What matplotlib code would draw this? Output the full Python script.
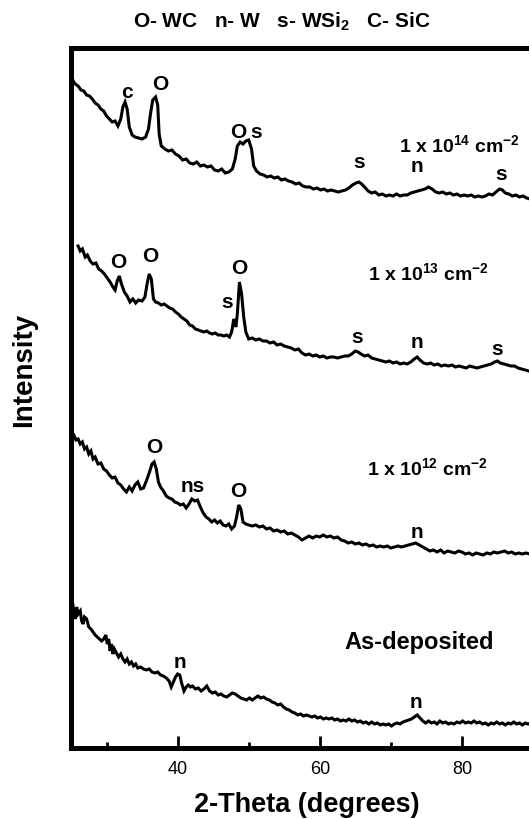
import matplotlib
matplotlib.use("Agg")
from matplotlib import pyplot as plt
from matplotlib.ticker import FixedLocator

plt.rcParams['font.family'] = ['Liberation Sans', 'DejaVu Sans']
plt.rcParams['mathtext.fontset'] = 'custom'
plt.rcParams['mathtext.rm'] = 'Liberation Sans:bold'
plt.rcParams['mathtext.bf'] = 'Liberation Sans:bold'
plt.rcParams['mathtext.it'] = 'Liberation Sans:bold'

# 1 x 10^14 cm^-2
tth_14 = [25.0, 25.3, 25.6, 26.0, 26.4, 26.8, 27.2, 27.6, 28.0, 28.4, 28.8, 29.2, 29.6, 30.0, 30.4, 30.8,
          31.2, 31.6, 32.0, 32.3, 32.6, 32.9, 33.2, 33.6, 34.0, 34.5, 35.0, 35.5, 35.9, 36.2, 36.5, 36.9,
          37.2, 37.4, 37.7, 38.2, 38.7, 39.2, 39.7, 40.2, 40.7, 41.2, 41.7, 42.2, 42.7, 43.2, 43.7, 44.2,
          44.7, 45.2, 45.7, 46.2, 46.7, 47.2, 47.7, 48.1, 48.4, 48.8, 49.2, 49.6, 50.0, 50.4, 50.7, 51.1,
          51.6, 52.1, 52.6, 53.1, 53.6, 54.1, 54.6, 55.1, 55.6, 56.1, 56.6, 57.1, 57.6, 58.1, 58.6, 59.1,
          59.6, 60.1, 60.6, 61.1, 61.6, 62.1, 62.6, 63.1, 63.6, 64.1, 64.6, 65.1, 65.5, 65.9, 66.3, 66.8,
          67.3, 67.8, 68.3, 68.8, 69.3, 69.8, 70.3, 70.8, 71.3, 71.8, 72.3, 72.8, 73.3, 73.8, 74.3, 74.8,
          75.3, 75.8, 76.3, 76.8, 77.3, 77.8, 78.3, 78.8, 79.3, 79.8, 80.3, 80.8, 81.3, 81.8, 82.3, 82.8,
          83.3, 83.8, 84.3, 84.8, 85.3, 85.7, 86.1, 86.6, 87.1, 87.6, 88.1, 88.6, 89.1, 89.6, 90.0]
int_14 = [673, 667, 664, 662, 658, 657, 653, 652, 649, 645, 643, 639, 637, 632, 629, 626,
          627, 622, 629, 641, 646, 639, 621, 613, 611, 610, 609, 611, 619, 635, 648, 651,
          643, 614, 602, 599, 597, 598, 594, 592, 588, 589, 585, 584, 586, 582, 583, 581,
          582, 578, 577, 579, 575, 576, 579, 589, 602, 606, 604, 607, 608, 599, 582, 577,
          574, 573, 571, 572, 570, 571, 568, 569, 567, 566, 564, 565, 562, 561, 561, 559,
          560, 558, 559, 557, 558, 557, 556, 557, 558, 560, 563, 565, 566, 564, 561, 557,
          555, 556, 553, 554, 552, 553, 552, 554, 552, 553, 553, 555, 556, 557, 558, 559,
          561, 559, 556, 555, 556, 554, 555, 553, 554, 552, 553, 552, 553, 551, 552, 551,
          552, 554, 553, 556, 559, 558, 555, 554, 552, 553, 551, 552, 550, 549, 549]

# 1 x 10^13 cm^-2
tth_13 = [26.0, 26.3, 26.6, 27.0, 27.3, 27.7, 28.1, 28.5, 28.9, 29.3, 29.7, 30.1, 30.5, 30.9, 31.2, 31.5,
          31.8, 32.1, 32.5, 32.9, 33.3, 33.7, 34.1, 34.5, 35.0, 35.4, 35.7, 36.0, 36.3, 36.6, 36.9, 37.3,
          37.7, 38.1, 38.5, 38.9, 39.3, 39.7, 40.1, 40.5, 40.9, 41.3, 41.7, 42.1, 42.5, 42.9, 43.3, 43.7,
          44.1, 44.5, 44.9, 45.3, 45.7, 46.1, 46.5, 46.9, 47.3, 47.6, 47.9, 48.2, 48.4, 48.7, 49.0, 49.3,
          49.6, 50.0, 50.5, 51.0, 51.5, 52.0, 52.5, 53.0, 53.5, 54.0, 54.5, 55.0, 55.5, 56.0, 56.5, 57.0,
          57.5, 58.0, 58.5, 59.0, 59.5, 60.0, 60.5, 61.0, 61.5, 62.0, 62.5, 63.0, 63.5, 64.0, 64.5, 65.0,
          65.4, 65.8, 66.3, 66.8, 67.3, 67.8, 68.3, 68.8, 69.3, 69.8, 70.3, 70.8, 71.3, 71.8, 72.3, 72.8,
          73.3, 73.7, 74.1, 74.6, 75.1, 75.6, 76.1, 76.6, 77.1, 77.6, 78.1, 78.6, 79.1, 79.6, 80.1, 80.6,
          81.1, 81.6, 82.1, 82.6, 83.1, 83.6, 84.1, 84.6, 85.0, 85.4, 85.9, 86.4, 86.9, 87.4, 87.9, 88.4,
          88.9, 89.4, 89.9]
int_13 = [502, 497, 499, 491, 493, 487, 484, 485, 479, 477, 474, 470, 466, 461, 458, 467,
          472, 464, 456, 452, 446, 449, 445, 448, 447, 451, 464, 474, 469, 449, 446, 445,
          443, 444, 442, 440, 439, 436, 434, 431, 429, 427, 423, 422, 419, 418, 417, 416,
          417, 415, 414, 415, 413, 413, 412, 413, 411, 416, 429, 421, 434, 466, 454, 431,
          416, 409, 410, 408, 409, 407, 407, 405, 406, 403, 404, 402, 401, 400, 398, 399,
          395, 393, 394, 392, 393, 391, 392, 390, 391, 391, 390, 391, 392, 392, 394, 397,
          396, 394, 392, 393, 390, 389, 388, 387, 386, 387, 385, 386, 384, 385, 384, 386,
          389, 391, 388, 385, 384, 385, 383, 384, 382, 383, 382, 383, 381, 382, 381, 380,
          382, 381, 380, 381, 382, 383, 384, 386, 387, 385, 384, 383, 382, 382, 380, 379,
          378, 377, 376]

# 1 x 10^12 cm^-2
tth_12 = [25.1, 25.4, 25.7, 26.0, 26.3, 26.6, 26.9, 27.2, 27.5, 27.8, 28.1, 28.4, 28.8, 29.2, 29.6, 30.0,
          30.4, 30.8, 31.2, 31.6, 32.0, 32.4, 32.8, 33.2, 33.6, 34.0, 34.4, 34.8, 35.2, 35.6, 36.0, 36.4,
          36.7, 37.0, 37.3, 37.6, 38.0, 38.4, 38.8, 39.2, 39.6, 40.0, 40.4, 40.8, 41.2, 41.6, 42.0, 42.4,
          42.8, 43.2, 43.6, 44.0, 44.4, 44.8, 45.2, 45.6, 46.0, 46.4, 46.8, 47.2, 47.6, 48.0, 48.3, 48.6,
          48.9, 49.2, 49.6, 50.0, 50.5, 51.0, 51.5, 52.0, 52.5, 53.0, 53.5, 54.0, 54.5, 55.0, 55.5, 56.0,
          56.5, 57.0, 57.5, 58.0, 58.5, 59.0, 59.5, 60.0, 60.5, 61.0, 61.5, 62.0, 62.5, 63.0, 63.5, 64.0,
          64.5, 65.0, 65.5, 66.0, 66.5, 67.0, 67.5, 68.0, 68.5, 69.0, 69.5, 70.0, 70.5, 71.0, 71.5, 72.0,
          72.5, 73.0, 73.5, 74.0, 74.5, 75.0, 75.5, 76.0, 76.5, 77.0, 77.5, 78.0, 78.5, 79.0, 79.5, 80.0,
          80.5, 81.0, 81.5, 82.0, 82.5, 83.0, 83.5, 84.0, 84.5, 85.0, 85.5, 86.0, 86.5, 87.0, 87.5, 88.0,
          88.5, 89.0, 89.5, 90.0]
int_12 = [312, 313, 308, 309, 304, 306, 299, 301, 294, 297, 289, 291, 284, 285, 279, 277,
          273, 270, 271, 265, 263, 259, 256, 261, 257, 263, 266, 259, 260, 267, 275, 284,
          286, 279, 266, 261, 257, 252, 250, 249, 246, 245, 243, 244, 240, 244, 249, 247,
          248, 241, 235, 231, 229, 226, 228, 225, 227, 223, 222, 224, 219, 222, 231, 243,
          239, 226, 224, 223, 222, 223, 221, 222, 219, 220, 217, 218, 216, 217, 214, 215,
          213, 211, 208, 210, 212, 210, 212, 211, 213, 211, 212, 210, 211, 208, 207, 205,
          206, 204, 205, 203, 204, 202, 203, 201, 202, 201, 202, 200, 201, 202, 201, 202,
          203, 204, 205, 203, 201, 199, 197, 198, 196, 198, 195, 197, 196, 195, 197, 196,
          194, 195, 193, 195, 194, 193, 195, 194, 196, 195, 196, 197, 195, 196, 194, 195,
          194, 195, 194, 195]

# As-deposited
tth_as = [25.2, 25.4, 25.6, 25.8, 26.0, 26.3, 26.5, 26.7, 26.9, 27.2, 27.5, 27.8, 28.1, 28.4, 28.7, 29.0,
          29.3, 29.6, 29.9, 30.1, 30.3, 30.5, 30.7, 30.9, 31.1, 31.4, 31.7, 32.0, 32.3, 32.6, 32.9, 33.2,
          33.5, 33.8, 34.1, 34.4, 34.8, 35.2, 35.6, 36.0, 36.4, 36.8, 37.2, 37.6, 38.0, 38.4, 38.8, 39.1,
          39.4, 39.7, 40.0, 40.3, 40.6, 40.9, 41.2, 41.5, 41.8, 42.1, 42.5, 42.9, 43.3, 43.7, 44.1, 44.5,
          44.9, 45.3, 45.7, 46.1, 46.5, 46.9, 47.3, 47.7, 48.1, 48.5, 48.9, 49.3, 49.7, 50.1, 50.5, 50.9,
          51.3, 51.7, 52.1, 52.5, 52.9, 53.3, 53.7, 54.1, 54.5, 54.9, 55.3, 55.7, 56.1, 56.5, 56.9, 57.3,
          57.7, 58.1, 58.5, 58.9, 59.3, 59.7, 60.1, 60.5, 60.9, 61.3, 61.7, 62.1, 62.5, 62.9, 63.3, 63.7,
          64.1, 64.5, 64.9, 65.3, 65.7, 66.1, 66.5, 66.9, 67.3, 67.7, 68.1, 68.5, 68.9, 69.3, 69.7, 70.1,
          70.5, 70.9, 71.3, 71.7, 72.1, 72.5, 72.9, 73.3, 73.7, 74.1, 74.5, 74.9, 75.3, 75.7, 76.1, 76.5,
          76.9, 77.3, 77.7, 78.1, 78.5, 78.9, 79.3, 79.7, 80.1, 80.5, 80.9, 81.3, 81.7, 82.1, 82.5, 82.9,
          83.3, 83.7, 84.1, 84.5, 84.9, 85.3, 85.7, 86.1, 86.5, 86.9, 87.3, 87.7, 88.1, 88.5, 88.9, 89.3,
          89.7, 90.0]
int_as = [146, 137, 129, 141, 134, 137, 127, 124, 131, 129, 121, 119, 116, 113, 111, 109,
          107, 109, 113, 104, 109, 97, 104, 94, 99, 95, 91, 94, 89, 86, 89, 84,
          86, 82, 84, 80, 81, 79, 78, 79, 76, 75, 76, 73, 72, 70, 67, 61,
          66, 71, 74, 73, 64, 57, 61, 63, 61, 62, 59, 60, 57, 59, 62, 57,
          55, 56, 53, 54, 52, 51, 53, 55, 54, 52, 50, 49, 48, 50, 48, 50,
          52, 50, 51, 49, 48, 46, 45, 43, 44, 41, 39, 38, 36, 35, 33, 34,
          32, 33, 32, 31, 32, 30, 31, 29, 30, 29, 30, 28, 29, 27, 28, 27,
          29, 27, 28, 26, 27, 25, 26, 24, 26, 24, 25, 23, 24, 23, 24, 22,
          24, 25, 24, 26, 27, 28, 29, 31, 33, 30, 27, 25, 27, 25, 26, 24,
          27, 25, 26, 24, 25, 24, 26, 25, 27, 25, 26, 25, 27, 25, 26, 24,
          25, 23, 25, 24, 26, 24, 25, 23, 25, 24, 26, 24, 25, 23, 25, 24,
          25, 24]

# peak markers: (2theta, height, letter)
marks_14 = [(32.9, 657, "c"), (37.5, 664, "O"), (48.5, 617, "O"), (51.1, 616, "s"),
            (65.6, 587, "s"), (73.7, 582, "n"), (85.5, 574, "s")]
marks_13 = [(31.7, 486, "O"), (36.2, 492, "O"), (46.9, 446, "s"), (48.7, 481, "O"),
            (65.2, 411, "s"), (73.7, 406, "n"), (85.0, 399, "s")]
marks_12 = [(36.7, 301, "O"), (42.1, 262, "ns"), (48.6, 257, "O"), (73.7, 217, "n")]
marks_as = [(40.3, 86, "n"), (73.6, 46, "n")]

fig = plt.figure(figsize=(5.29, 8.2), dpi=100)
ax = fig.add_axes([71 / 529, 71 / 820, 462 / 529, 700 / 820])

lw = 2.2
for tth, inten in [(tth_14, int_14), (tth_13, int_13), (tth_12, int_12), (tth_as, int_as)]:
    ax.plot(tth, inten, color='black', lw=lw, solid_joinstyle='miter')

for marks in [marks_14, marks_13, marks_12, marks_as]:
    for x, y, t in marks:
        ax.text(x, y, t, ha='center', va='center', fontsize=15, fontweight='bold')

ax.text(79.6, 604, r'1 x 10$^{14}$ cm$^{-2}$', ha='center', va='center', fontsize=14, fontweight='bold')
ax.text(75.3, 476, r'1 x 10$^{13}$ cm$^{-2}$', ha='center', va='center', fontsize=14, fontweight='bold')
ax.text(75.1, 281, r'1 x 10$^{12}$ cm$^{-2}$', ha='center', va='center', fontsize=14, fontweight='bold')
ax.text(74.0, 106, 'As-deposited', ha='center', va='center', fontsize=17, fontweight='bold')

ax.set_xlim(25, 90)
ax.set_ylim(0, 700)
ax.xaxis.set_major_locator(FixedLocator([40, 60, 80]))
ax.xaxis.set_minor_locator(FixedLocator([30, 50, 70, 90]))
ax.set_yticks([])
ax.tick_params(axis='x', which='major', direction='in', length=8.6, width=2, labelsize=13, pad=9)
ax.tick_params(axis='x', which='minor', direction='in', length=4.3, width=2)
for sp in ax.spines.values():
    sp.set_linewidth(3.6)

fig.text(282 / 529, 1 - 22 / 820, r'O- WC   n- W   s- WSi$_{2}$   C- SiC',
         ha='center', va='center', fontsize=15, fontweight='bold')
fig.text(307 / 529, 1 - 805 / 820, '2-Theta (degrees)', ha='center', va='center',
         fontsize=19.5, fontweight='bold')
fig.text(24 / 529, 1 - 370 / 820, 'Intensity', ha='center', va='center', rotation=90,
         fontsize=20, fontweight='bold')

plt.savefig('out.png', dpi=100)
